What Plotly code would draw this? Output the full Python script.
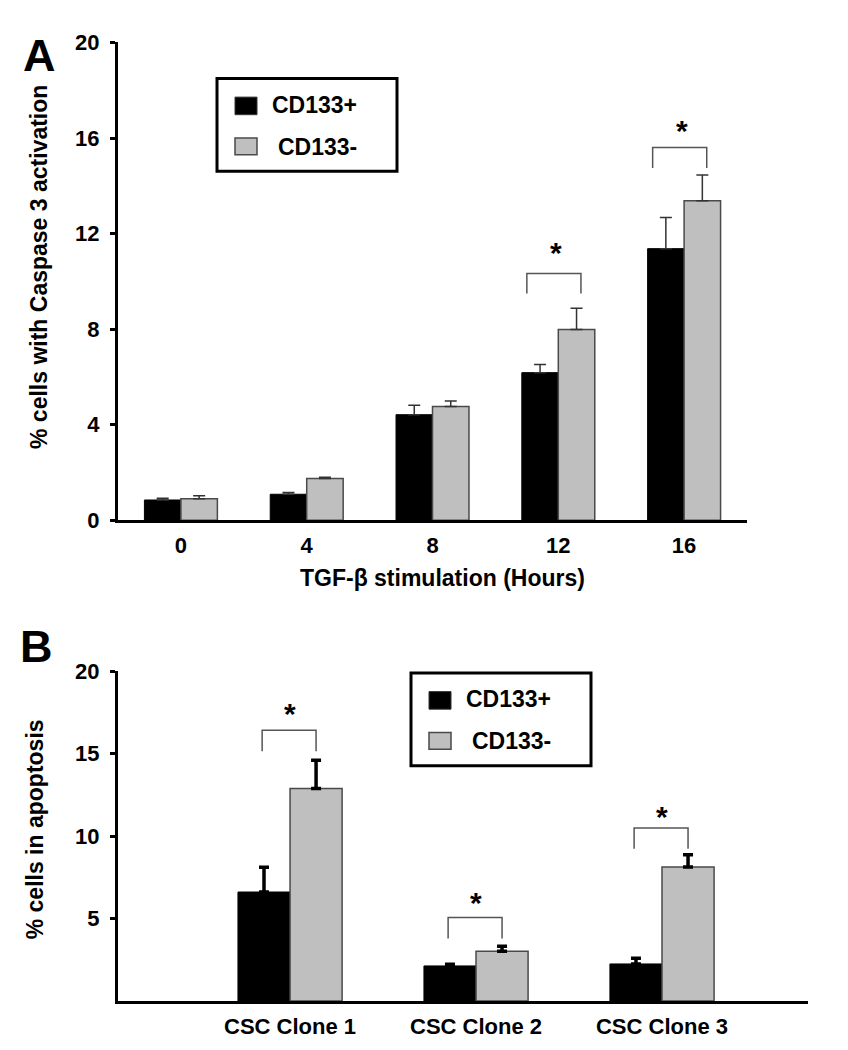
import plotly.graph_objects as go

# ---------------- data ----------------
hours = ["0", "4", "8", "12", "16"]
a_cd133_pos = [0.85, 1.09, 4.42, 6.18, 11.37]
a_cd133_pos_err = [0.07, 0.07, 0.40, 0.34, 1.30]
a_cd133_neg = [0.90, 1.75, 4.76, 7.99, 13.37]
a_cd133_neg_err = [0.13, 0.05, 0.23, 0.89, 1.08]
a_sig_idx = [3, 4]
a_sig_top = [10.33, 15.60]
a_sig_leg = [9.49, 14.74]
a_star_y = [11.37, 16.47]

clones = ["CSC Clone 1", "CSC Clone 2", "CSC Clone 3"]
b_cd133_pos = [6.61, 2.13, 2.25]
b_cd133_pos_err = [1.50, 0.10, 0.35]
b_cd133_neg = [12.88, 3.02, 8.12]
b_cd133_neg_err = [1.72, 0.30, 0.75]
b_sig_idx = [0, 1, 2]
b_sig_top = [16.41, 5.07, 10.49]
b_sig_leg = [15.15, 3.80, 9.23]
b_star_y = [17.70, 6.21, 11.44]

a_yticks = [0, 4, 8, 12, 16, 20]
b_yticks = [5, 10, 15, 20]

# ---------------- layout helpers ----------------
W, H = 848, 1050
FONT = "Liberation Sans, Arial, sans-serif"
GREY = "#bfbfbf"
def px(x):
    return x / W
def py(y):
    return 1 - y / H

fig = go.Figure()

a_x = list(range(len(hours)))
b_x = list(range(len(clones)))
wa = 0.29
wb = 0.28

fig.add_trace(go.Bar(x=a_x, y=a_cd133_pos, width=wa, offset=-wa, name="CD133+",
                     marker=dict(color="black", line=dict(color="black", width=1)),
                     error_y=dict(type="data", symmetric=False, array=a_cd133_pos_err,
                                  arrayminus=[0] * len(hours), color="#333333",
                                  thickness=1.5, width=6),
                     xaxis="x", yaxis="y", showlegend=False))
fig.add_trace(go.Bar(x=a_x, y=a_cd133_neg, width=wa, offset=0, name="CD133-",
                     marker=dict(color=GREY, line=dict(color="#4a4a4a", width=1.5)),
                     error_y=dict(type="data", symmetric=False, array=a_cd133_neg_err,
                                  arrayminus=[0] * len(hours), color="#333333",
                                  thickness=1.5, width=6),
                     xaxis="x", yaxis="y", showlegend=False))
fig.add_trace(go.Bar(x=b_x, y=b_cd133_pos, width=wb, offset=-wb, name="CD133+",
                     marker=dict(color="black", line=dict(color="black", width=1)),
                     error_y=dict(type="data", symmetric=False, array=b_cd133_pos_err,
                                  arrayminus=[0] * len(clones), color="black",
                                  thickness=3.5, width=5),
                     xaxis="x2", yaxis="y2", showlegend=False))
fig.add_trace(go.Bar(x=b_x, y=b_cd133_neg, width=wb, offset=0, name="CD133-",
                     marker=dict(color=GREY, line=dict(color="#4a4a4a", width=1.5)),
                     error_y=dict(type="data", symmetric=False, array=b_cd133_neg_err,
                                  arrayminus=[0] * len(clones), color="black",
                                  thickness=3.5, width=5),
                     xaxis="x2", yaxis="y2", showlegend=False))

shapes = []
annotations = []

# significance brackets
def add_brackets(idx, top, leg, stars, xref, yref, dl, dr, dstar):
    for i, t, l, s in zip(idx, top, leg, stars):
        x0, x1 = i + dl, i + dr
        shapes.append(dict(type="path", xref=xref, yref=yref,
                           path=f"M {x0},{l} L {x0},{t} L {x1},{t} L {x1},{l}",
                           line=dict(color="#555555", width=1.5)))
        annotations.append(dict(x=i + dstar, y=s, xref=xref, yref=yref, text="*",
                                showarrow=False, yanchor="middle", yshift=-4,
                                font=dict(size=30, color="black", family=FONT)))

add_brackets(a_sig_idx, a_sig_top, a_sig_leg, a_star_y, "x", "y", -0.25, 0.18, -0.02)
add_brackets(b_sig_idx, b_sig_top, b_sig_leg, b_star_y, "x2", "y2", -0.15, 0.14, 0.0)

# legends (drawn)
def add_legend(left, top):
    shapes.append(dict(type="rect", xref="paper", yref="paper",
                       x0=px(left), x1=px(left + 180), y0=py(top), y1=py(top + 95),
                       line=dict(color="black", width=3), fillcolor="white", layer="above"))
    shapes.append(dict(type="rect", xref="paper", yref="paper",
                       x0=px(left + 18), x1=px(left + 40), y0=py(top + 19), y1=py(top + 37),
                       line=dict(color="#333333", width=1), fillcolor="black", layer="above"))
    shapes.append(dict(type="rect", xref="paper", yref="paper",
                       x0=px(left + 18), x1=px(left + 40), y0=py(top + 61), y1=py(top + 78),
                       line=dict(color="#4a4a4a", width=1.5), fillcolor=GREY, layer="above"))
    annotations.append(dict(x=px(left + 53), y=py(top + 27), xref="paper", yref="paper",
                            text="CD133+", showarrow=False, xanchor="left", yanchor="middle",
                            font=dict(size=23, family=FONT, color="black")))
    annotations.append(dict(x=px(left + 59), y=py(top + 70), xref="paper", yref="paper",
                            text="CD133-", showarrow=False, xanchor="left", yanchor="middle",
                            font=dict(size=23, family=FONT, color="black")))

add_legend(209, 60)
add_legend(403, 669)

# titles / panel letters
def txt(x, y, s, size, angle=0):
    annotations.append(dict(x=px(x), y=py(y), xref="paper", yref="paper", text=s,
                            showarrow=False, xanchor="center", yanchor="middle",
                            textangle=angle, font=dict(size=size, family=FONT, color="black")))

txt(31, 36, "A", 45)
txt(28, 642, "B", 45)
txt(31, 253, "% cells with Caspase 3 activation", 23, -90)
txt(434, 572, "TGF-β stimulation (Hours)", 23)
txt(27, 829, "% cells in apoptosis", 23, -90)

axis_common = dict(showgrid=False, zeroline=False, showline=True, linecolor="black",
                   linewidth=3, tickfont=dict(size=22, family=FONT, color="black"))

fig.update_layout(
    width=W, height=H,
    margin=dict(l=0, r=0, t=0, b=0),
    paper_bgcolor="white", plot_bgcolor="white",
    font=dict(family=FONT, weight="bold", color="black"),
    barmode="overlay",
    xaxis=dict(domain=[px(110), px(739)], range=[-0.5, 4.5], anchor="y",
               tickmode="array", tickvals=a_x, ticktext=hours, ticks="",
               ticklabelstandoff=3, **axis_common),
    yaxis=dict(domain=[py(512.5), py(23)], range=[0, 20], anchor="x",
               tickmode="array", tickvals=a_yticks, ticks="outside", ticklen=5,
               tickwidth=2.5, tickcolor="black", ticklabelstandoff=6, **axis_common),
    xaxis2=dict(domain=[px(110), px(800)], range=[-0.925, 2.785], anchor="y2",
                tickmode="array", tickvals=b_x, ticktext=clones, ticks="",
                ticklabelstandoff=4, **axis_common),
    yaxis2=dict(domain=[py(1005), py(667)], range=[0, 20], anchor="x2",
                tickmode="array", tickvals=b_yticks, ticks="outside", ticklen=5,
                tickwidth=2.5, tickcolor="black", ticklabelstandoff=6, **axis_common),
    shapes=shapes,
    annotations=annotations,
)

fig.write_html("out.html")
